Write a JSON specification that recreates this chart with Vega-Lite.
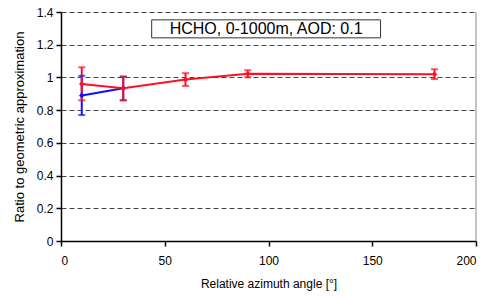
{
  "$schema": "https://vega.github.io/schema/vega-lite/v6.json",
  "width": 415,
  "height": 229,
  "autosize": {"type": "none"},
  "padding": {"left": 61, "top": 12, "right": 11, "bottom": 55},
  "background": "white",
  "config": {
    "font": "Liberation Sans",
    "view": {"stroke": null},
    "axis": {"labelFont": "Liberation Sans", "titleFont": "Liberation Sans", "labelColor": "#000", "titleColor": "#000", "titleFontWeight": "normal"}
  },
  "datasets": {
    "series": [
      {"series": "B", "angle": 10, "ratio": 0.89, "lo": 0.77, "hi": 1.01},
      {"series": "B", "angle": 30, "ratio": 0.934, "lo": 0.86, "hi": 1.005},
      {"series": "R", "angle": 10, "ratio": 0.96, "lo": 0.86, "hi": 1.062},
      {"series": "R", "angle": 30, "ratio": 0.934, "lo": 0.86, "hi": 1.005},
      {"series": "R", "angle": 60, "ratio": 0.987, "lo": 0.948, "hi": 1.026},
      {"series": "R", "angle": 90, "ratio": 1.023, "lo": 1.001, "hi": 1.044},
      {"series": "R", "angle": 180, "ratio": 1.02, "lo": 0.99, "hi": 1.05}
    ],
    "note": [
      {"label": "HCHO, 0-1000m, AOD: 0.1"}
    ]
  },
  "layer": [
    {
      "data": {"name": "series"},
      "mark": {"type": "line", "strokeWidth": 2},
      "encoding": {
        "x": {"field": "angle", "type": "quantitative", "scale": {"domain": [0, 200], "nice": false},
          "axis": {"values": [0, 50, 100, 150, 200], "grid": false, "title": "Relative azimuth angle [°]", "titleFontSize": 12, "titlePadding": 12, "labelFontSize": 12, "labelPadding": 9, "tickSize": 5, "tickColor": "#000", "domainColor": "#000", "domainWidth": 1.5, "tickWidth": 1.5}},
        "y": {"field": "ratio", "type": "quantitative", "scale": {"domain": [0, 1.4], "nice": false},
          "axis": {"values": [0, 0.2, 0.4, 0.6, 0.8, 1, 1.2, 1.4], "grid": true, "labelExpr": "'' + datum.value", "gridDash": [5, 3], "gridColor": "#444", "gridWidth": 1, "title": "Ratio to geometric approximation", "titleFontSize": 13, "titlePadding": 10, "labelFontSize": 12, "labelPadding": 3, "tickSize": 5, "tickColor": "#000", "domainColor": "#000", "domainWidth": 1.5, "tickWidth": 1.5}},
        "color": {"field": "series", "type": "nominal", "scale": {"domain": ["B", "R"], "range": ["#1010ff", "#ff1020"]}, "legend": null}
      }
    },
    {
      "data": {"name": "note"},
      "mark": {"type": "rule", "strokeWidth": 1.5, "color": "#b0b0b0"},
      "encoding": {
        "x": {"datum": 200, "type": "quantitative",
          "axis": {"values": [0, 50, 100, 150, 200], "grid": false, "title": "Relative azimuth angle [°]", "titleFontSize": 12, "titlePadding": 12, "labelFontSize": 12, "labelPadding": 9, "tickSize": 5, "tickColor": "#000", "domainColor": "#000", "domainWidth": 1.5, "tickWidth": 1.5}},
        "y": {"datum": 0, "type": "quantitative",
          "axis": {"values": [0, 0.2, 0.4, 0.6, 0.8, 1, 1.2, 1.4], "grid": true, "labelExpr": "'' + datum.value", "gridDash": [5, 3], "gridColor": "#444", "gridWidth": 1, "title": "Ratio to geometric approximation", "titleFontSize": 13, "titlePadding": 10, "labelFontSize": 12, "labelPadding": 3, "tickSize": 5, "tickColor": "#000", "domainColor": "#000", "domainWidth": 1.5, "tickWidth": 1.5}},
        "y2": {"datum": 1.4}
      }
    },
    {
      "data": {"name": "note"},
      "mark": {"type": "rect", "fill": "white", "stroke": "#333", "strokeWidth": 1},
      "encoding": {
        "x": {"datum": 43.7, "type": "quantitative",
          "axis": {"values": [0, 50, 100, 150, 200], "grid": false, "title": "Relative azimuth angle [°]", "titleFontSize": 12, "titlePadding": 12, "labelFontSize": 12, "labelPadding": 9, "tickSize": 5, "tickColor": "#000", "domainColor": "#000", "domainWidth": 1.5, "tickWidth": 1.5}},
        "x2": {"datum": 154},
        "y": {"datum": 1.352, "type": "quantitative",
          "axis": {"values": [0, 0.2, 0.4, 0.6, 0.8, 1, 1.2, 1.4], "grid": true, "labelExpr": "'' + datum.value", "gridDash": [5, 3], "gridColor": "#444", "gridWidth": 1, "title": "Ratio to geometric approximation", "titleFontSize": 13, "titlePadding": 10, "labelFontSize": 12, "labelPadding": 3, "tickSize": 5, "tickColor": "#000", "domainColor": "#000", "domainWidth": 1.5, "tickWidth": 1.5}},
        "y2": {"datum": 1.242}
      }
    },
    {
      "data": {"name": "note"},
      "mark": {"type": "text", "fontSize": 16, "font": "Liberation Sans", "baseline": "middle", "align": "center", "color": "#000"},
      "encoding": {
        "x": {"datum": 98.85, "type": "quantitative",
          "axis": {"values": [0, 50, 100, 150, 200], "grid": false, "title": "Relative azimuth angle [°]", "titleFontSize": 12, "titlePadding": 12, "labelFontSize": 12, "labelPadding": 9, "tickSize": 5, "tickColor": "#000", "domainColor": "#000", "domainWidth": 1.5, "tickWidth": 1.5}},
        "y": {"datum": 1.297, "type": "quantitative",
          "axis": {"values": [0, 0.2, 0.4, 0.6, 0.8, 1, 1.2, 1.4], "grid": true, "labelExpr": "'' + datum.value", "gridDash": [5, 3], "gridColor": "#444", "gridWidth": 1, "title": "Ratio to geometric approximation", "titleFontSize": 13, "titlePadding": 10, "labelFontSize": 12, "labelPadding": 3, "tickSize": 5, "tickColor": "#000", "domainColor": "#000", "domainWidth": 1.5, "tickWidth": 1.5}},
        "text": {"field": "label"}
      }
    },
    {
      "data": {"name": "series"},
      "mark": {"type": "rule", "strokeWidth": 2},
      "encoding": {
        "x": {"field": "angle", "type": "quantitative",
          "axis": {"values": [0, 50, 100, 150, 200], "grid": false, "title": "Relative azimuth angle [°]", "titleFontSize": 12, "titlePadding": 12, "labelFontSize": 12, "labelPadding": 9, "tickSize": 5, "tickColor": "#000", "domainColor": "#000", "domainWidth": 1.5, "tickWidth": 1.5}},
        "y": {"field": "lo", "type": "quantitative",
          "axis": {"values": [0, 0.2, 0.4, 0.6, 0.8, 1, 1.2, 1.4], "grid": true, "labelExpr": "'' + datum.value", "gridDash": [5, 3], "gridColor": "#444", "gridWidth": 1, "title": "Ratio to geometric approximation", "titleFontSize": 13, "titlePadding": 10, "labelFontSize": 12, "labelPadding": 3, "tickSize": 5, "tickColor": "#000", "domainColor": "#000", "domainWidth": 1.5, "tickWidth": 1.5}},
        "y2": {"field": "hi"},
        "color": {"field": "series", "type": "nominal", "legend": null}
      }
    },
    {
      "data": {"name": "series"},
      "mark": {"type": "tick", "orient": "horizontal", "size": 7, "thickness": 2},
      "encoding": {
        "x": {"field": "angle", "type": "quantitative",
          "axis": {"values": [0, 50, 100, 150, 200], "grid": false, "title": "Relative azimuth angle [°]", "titleFontSize": 12, "titlePadding": 12, "labelFontSize": 12, "labelPadding": 9, "tickSize": 5, "tickColor": "#000", "domainColor": "#000", "domainWidth": 1.5, "tickWidth": 1.5}},
        "y": {"field": "lo", "type": "quantitative",
          "axis": {"values": [0, 0.2, 0.4, 0.6, 0.8, 1, 1.2, 1.4], "grid": true, "labelExpr": "'' + datum.value", "gridDash": [5, 3], "gridColor": "#444", "gridWidth": 1, "title": "Ratio to geometric approximation", "titleFontSize": 13, "titlePadding": 10, "labelFontSize": 12, "labelPadding": 3, "tickSize": 5, "tickColor": "#000", "domainColor": "#000", "domainWidth": 1.5, "tickWidth": 1.5}},
        "color": {"field": "series", "type": "nominal", "legend": null}
      }
    },
    {
      "data": {"name": "series"},
      "mark": {"type": "tick", "orient": "horizontal", "size": 7, "thickness": 2},
      "encoding": {
        "x": {"field": "angle", "type": "quantitative",
          "axis": {"values": [0, 50, 100, 150, 200], "grid": false, "title": "Relative azimuth angle [°]", "titleFontSize": 12, "titlePadding": 12, "labelFontSize": 12, "labelPadding": 9, "tickSize": 5, "tickColor": "#000", "domainColor": "#000", "domainWidth": 1.5, "tickWidth": 1.5}},
        "y": {"field": "hi", "type": "quantitative",
          "axis": {"values": [0, 0.2, 0.4, 0.6, 0.8, 1, 1.2, 1.4], "grid": true, "labelExpr": "'' + datum.value", "gridDash": [5, 3], "gridColor": "#444", "gridWidth": 1, "title": "Ratio to geometric approximation", "titleFontSize": 13, "titlePadding": 10, "labelFontSize": 12, "labelPadding": 3, "tickSize": 5, "tickColor": "#000", "domainColor": "#000", "domainWidth": 1.5, "tickWidth": 1.5}},
        "color": {"field": "series", "type": "nominal", "legend": null}
      }
    },
    {
      "data": {"name": "series"},
      "mark": {"type": "point", "filled": true, "shape": "diamond", "size": 30, "opacity": 1},
      "encoding": {
        "x": {"field": "angle", "type": "quantitative",
          "axis": {"values": [0, 50, 100, 150, 200], "grid": false, "title": "Relative azimuth angle [°]", "titleFontSize": 12, "titlePadding": 12, "labelFontSize": 12, "labelPadding": 9, "tickSize": 5, "tickColor": "#000", "domainColor": "#000", "domainWidth": 1.5, "tickWidth": 1.5}},
        "y": {"field": "ratio", "type": "quantitative",
          "axis": {"values": [0, 0.2, 0.4, 0.6, 0.8, 1, 1.2, 1.4], "grid": true, "labelExpr": "'' + datum.value", "gridDash": [5, 3], "gridColor": "#444", "gridWidth": 1, "title": "Ratio to geometric approximation", "titleFontSize": 13, "titlePadding": 10, "labelFontSize": 12, "labelPadding": 3, "tickSize": 5, "tickColor": "#000", "domainColor": "#000", "domainWidth": 1.5, "tickWidth": 1.5}},
        "color": {"field": "series", "type": "nominal", "legend": null}
      }
    }
  ]
}
